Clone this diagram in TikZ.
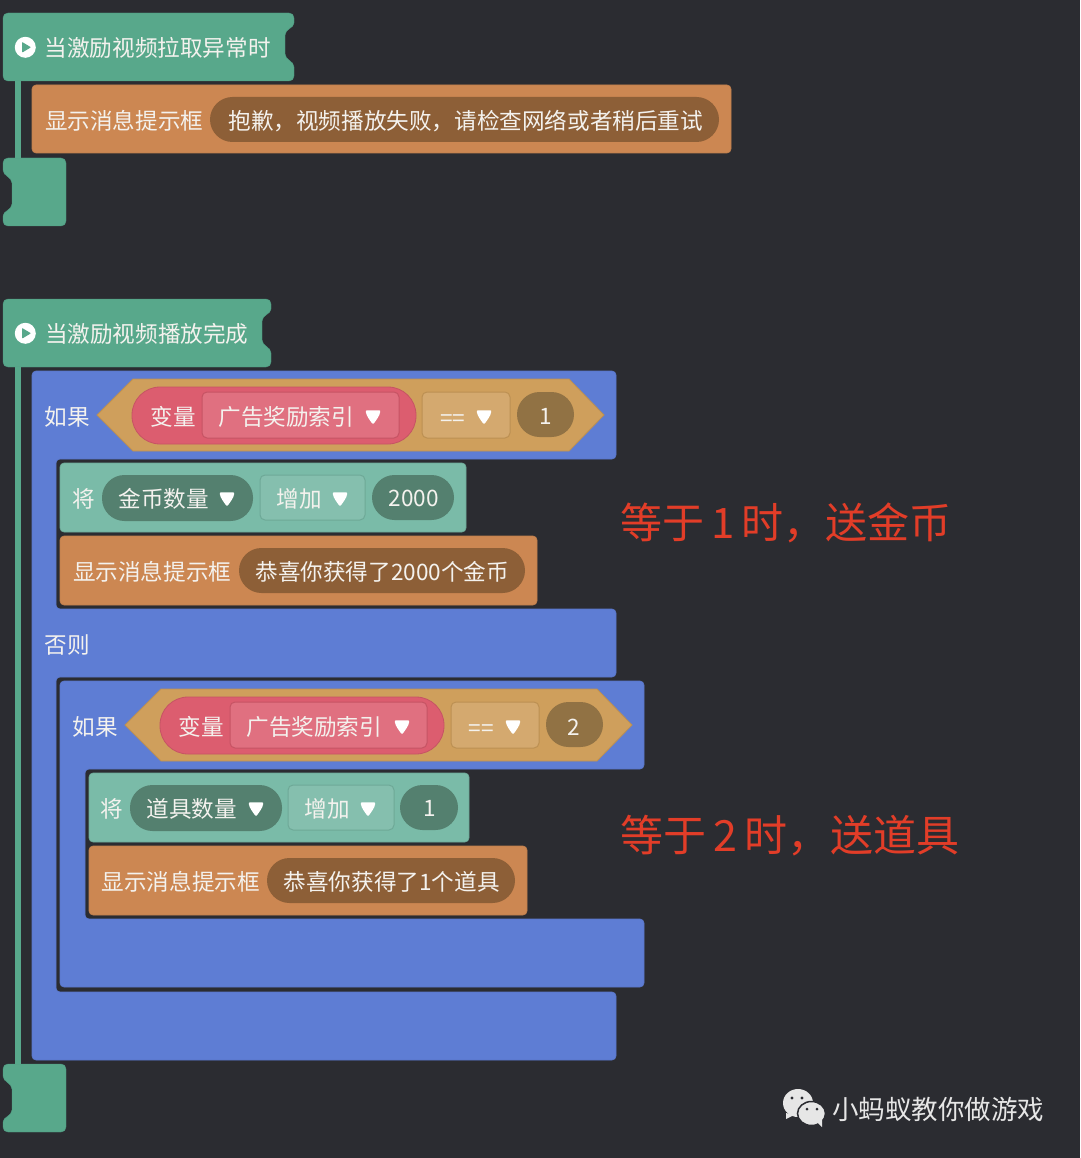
\documentclass[tikz,border=0pt]{standalone}
\usepackage{fontspec}
\setmainfont{Noto Sans CJK SC}
\definecolor{bgc}{HTML}{2B2C31}
\definecolor{greenc}{HTML}{58A88B}
\definecolor{greenb}{HTML}{4F9980}
\definecolor{orangec}{HTML}{CC8752}
\definecolor{orangeb}{HTML}{C07F4D}
\definecolor{opill}{HTML}{8D5F37}
\definecolor{bluec}{HTML}{5E7DD4}
\definecolor{blueb}{HTML}{5A77CA}
\definecolor{hexc}{HTML}{CF9F5C}
\definecolor{hexb}{HTML}{BC9053}
\definecolor{redc}{HTML}{DC5D6F}
\definecolor{redb}{HTML}{C65464}
\definecolor{reddd}{HTML}{E07080}
\definecolor{tealc}{HTML}{7ABBA8}
\definecolor{tealb}{HTML}{6EA997}
\definecolor{tealp}{HTML}{54806F}
\definecolor{tealdd}{HTML}{85BFAE}
\definecolor{brownp}{HTML}{917244}
\definecolor{tandd}{HTML}{D4A96F}
\definecolor{txtc}{HTML}{F4F2EE}
\definecolor{redtxt}{HTML}{E23D28}
\definecolor{wmc}{HTML}{E6E6E6}
\tikzset{
  x=1pt,y=-1pt,
  boxbase/.style={rectangle,inner sep=0pt,outer sep=0pt},
  setblk/.style={boxbase,fill=tealc,draw=tealb,rounded corners=4pt,line width=.6pt},
  msgblk/.style={boxbase,fill=orangec,draw=orangeb,rounded corners=4pt,line width=.6pt},
  msgpill/.style={boxbase,fill=opill,rounded corners=22.5pt},
  tealpill/.style={boxbase,fill=tealp,rounded corners=22.5pt},
  brownpill/.style={boxbase,fill=brownp,rounded corners=22.5pt},
  redpill/.style={boxbase,fill=redc,draw=redb,line width=.8pt,rounded corners=28pt},
  reddrop/.style={boxbase,fill=reddd,draw=redb,line width=1pt,rounded corners=5pt},
  tandrop/.style={boxbase,fill=tandd,draw=hexb,line width=1pt,rounded corners=5pt},
  tealdrop/.style={boxbase,fill=tealdd,draw=tealb,line width=1pt,rounded corners=5pt},
  lbl/.style={text=txtc,inner sep=0pt,xshift=.7pt,yshift=-.8pt,font=\fontsize{22.6}{26}\selectfont},
  redlbl/.style={text=redtxt,inner sep=0pt,font=\fontsize{42}{48}\selectfont},
  wmlbl/.style={text=wmc,inner sep=0pt,font=\fontsize{26.5}{30}\selectfont},
  hatshape/.style={fill=greenc,draw=greenb,line width=.4pt},
  spine/.style={draw=greenc,line width=6pt},
  blueshape/.style={fill=bluec,draw=blueb,line width=.6pt,rounded corners=4pt},
  hexshape/.style={fill=hexc,draw=hexb,line width=.8pt},
  dropmark/.style={fill=white,draw=white,line width=2.5pt,line join=round},
}
\newcommand{\bx}[6]{%
  \pgfmathsetmacro\cxv{(#2+#4)/2}\pgfmathsetmacro\cyv{(#3+#5)/2}%
  \pgfmathsetmacro\wv{#4-#2}\pgfmathsetmacro\hv{#5-#3}%
  \node[#6,minimum width=\wv pt,minimum height=\hv pt] (#1) at (\cxv,\cyv) {};}
\newcommand{\tx}[4]{\node[lbl] (#1) at (#2,#3) {#4};}
\newcommand{\mk}[2]{\fill[dropmark] (#1-6,#2-4.5) -- (#1+6,#2-4.5) .. controls (#1+5.5,#2-0.5) and (#1+2,#2+3.5) .. (#1,#2+6.5) .. controls (#1-2,#2+3.5) and (#1-5.5,#2-0.5) .. (#1-6,#2-4.5) -- cycle;}
\newcommand{\hatblock}[3]{% right edge x, top y, name
  \pgfmathsetmacro\rx{#1}\pgfmathsetmacro\ty{#2}%
  \filldraw[hatshape] (3,\ty+5) .. controls (3,\ty+2) and (5,\ty) .. (8,\ty)
    -- (\rx-5,\ty) .. controls (\rx-2,\ty) and (\rx,\ty+2) .. (\rx,\ty+5)
    -- (\rx,\ty+10) .. controls (\rx,\ty+15) and (\rx-9,\ty+16) .. (\rx-9,\ty+22)
    -- (\rx-9,\ty+41) .. controls (\rx-9,\ty+47) and (\rx,\ty+48) .. (\rx,\ty+54)
    -- (\rx,\ty+63) .. controls (\rx,\ty+66) and (\rx-2,\ty+68) .. (\rx-5,\ty+68)
    -- (8,\ty+68) .. controls (5,\ty+68) and (3,\ty+66) .. (3,\ty+63) -- cycle;
  \coordinate (#3) at (18,\ty+68);
  \fill[white] (25.3,\ty+34.3) circle[radius=10.5];
  \fill[greenc,draw=greenc,line width=1pt,line join=round] (22.5,\ty+29.8) -- (30,\ty+34.3) -- (22.5,\ty+38.8) -- cycle;}
\newcommand{\capb}[2]{% top y, name
  \pgfmathsetmacro\ty{#1}%
  \filldraw[hatshape] (8,\ty) -- (61,\ty) .. controls (64,\ty) and (66,\ty+2) .. (66,\ty+5)
    -- (66,\ty+63) .. controls (66,\ty+66) and (64,\ty+68) .. (61,\ty+68)
    -- (8,\ty+68) .. controls (5,\ty+68) and (3,\ty+66) .. (3,\ty+63)
    -- (3,\ty+58) .. controls (3,\ty+53) and (12,\ty+52) .. (12,\ty+46)
    -- (12,\ty+25) .. controls (12,\ty+19) and (3,\ty+18) .. (3,\ty+12)
    -- (3,\ty+5) .. controls (3,\ty+2) and (5,\ty) .. (8,\ty) -- cycle;
  \coordinate (#2) at (18,\ty);}
\begin{document}
\begin{tikzpicture}
\useasboundingbox (0,0) rectangle (1080,1158);
\fill[bgc] (0,0) rectangle (1080,1158);

% --- first stack
\hatblock{294}{13}{hatA}
\capb{158}{capA}
\draw[spine] (hatA) -- (capA);
\tx{tA}{157}{47}{当激励视频拉取异常时}
\bx{msgA}{32}{85}{731}{153}{msgblk}
\tx{msgAl}{123.5}{120}{显示消息提示框}
\bx{msgAp}{210}{97}{719}{142}{msgpill}
\tx{msgAt}{465}{120}{抱歉，视频播放失败，请检查网络或者稍后重试}

% --- second stack
\hatblock{271}{299}{hatB}
\capb{1064}{capB}
\draw[spine] (hatB) -- (capB);
\tx{tB}{146}{333}{当激励视频播放完成}

% outer if
\filldraw[blueshape] (32,371) -- (616,371) -- (616,459) -- (56,459) -- (56,609) -- (616,609) -- (616,677) -- (56,677) -- (56,992) -- (616,992) -- (616,1060) -- (32,1060) -- cycle;
\tx{ifA}{66.5}{416}{如果}
\tx{elseA}{66.5}{644}{否则}
\coordinate (hA1) at (97,415);\coordinate (hA2) at (133,379);\coordinate (hA3) at (569,379);
\coordinate (hA4) at (604,415);\coordinate (hA5) at (569,451);\coordinate (hA6) at (133,451);
\filldraw[hexshape] (hA1) -- (hA2) -- (hA3) -- (hA4) -- (hA5) -- (hA6) -- cycle;
\bx{vA}{132}{387}{416}{444}{redpill}
\tx{vAl}{172.5}{416}{变量}
\bx{vAd}{202}{392}{399}{438}{reddrop}
\tx{vAt}{285.5}{416}{广告奖励索引}
\mk{373}{416}
\bx{opA}{422}{392}{510}{438}{tandrop}
\tx{opAt}{452}{420}{==}
\mk{484}{416}
\bx{numA}{517}{392}{574}{437}{brownpill}
\tx{numAt}{545}{416}{1}

\bx{setA}{60}{463}{466}{532}{setblk}
\tx{setAl}{83}{498}{将}
\bx{setAv}{102}{475}{253}{521}{tealpill}
\tx{setAvt}{163}{498}{金币数量}
\mk{227}{498}
\bx{setAo}{260}{475}{365}{520}{tealdrop}
\tx{setAot}{298.5}{498}{增加}
\mk{340}{498}
\bx{setAn}{372}{475}{454}{520}{tealpill}
\tx{setAnt}{413}{498}{2000}

\bx{msgB}{60}{536}{537}{605}{msgblk}
\tx{msgBl}{151.5}{571}{显示消息提示框}
\bx{msgBp}{239}{548}{525}{593}{msgpill}
\tx{msgBt}{381.5}{571}{恭喜你获得了2000个金币}

% inner if
\filldraw[blueshape] (60,681) -- (644,681) -- (644,769) -- (85,769) -- (85,919) -- (644,919) -- (644,987) -- (60,987) -- cycle;
\tx{ifB}{94.5}{726}{如果}
\coordinate (hB1) at (125,725);\coordinate (hB2) at (161,689);\coordinate (hB3) at (597,689);
\coordinate (hB4) at (632,725);\coordinate (hB5) at (597,761);\coordinate (hB6) at (161,761);
\filldraw[hexshape] (hB1) -- (hB2) -- (hB3) -- (hB4) -- (hB5) -- (hB6) -- cycle;
\bx{vB}{160}{697}{444}{754}{redpill}
\tx{vBl}{200.5}{726}{变量}
\bx{vBd}{230}{702}{427}{748}{reddrop}
\tx{vBt}{313.5}{726}{广告奖励索引}
\mk{402}{726}
\bx{opB}{451}{702}{539}{748}{tandrop}
\tx{opBt}{480.5}{730}{==}
\mk{513}{726}
\bx{numB}{546}{702}{603}{747}{brownpill}
\tx{numBt}{573.5}{726}{2}

\bx{setB}{89}{773}{469}{842}{setblk}
\tx{setBl}{111}{808}{将}
\bx{setBv}{130}{785}{282}{831}{tealpill}
\tx{setBvt}{191}{808}{道具数量}
\mk{256}{808}
\bx{setBo}{288}{785}{394}{830}{tealdrop}
\tx{setBot}{326.5}{808}{增加}
\mk{368}{808}
\bx{setBn}{400}{785}{458}{830}{tealpill}
\tx{setBnt}{429}{808}{1}

\bx{msgC}{89}{846}{527}{915}{msgblk}
\tx{msgCl}{180}{881}{显示消息提示框}
\bx{msgCp}{267}{858}{515}{903}{msgpill}
\tx{msgCt}{391}{881}{恭喜你获得了1个道具}

% notes
\node[redlbl] (noteA) at (786,523) {等于\,1\,时，送金币};
\node[redlbl,font=\fontsize{43}{48}\selectfont] (noteB) at (790,836) {等于\,2\,时，送道具};

% watermark
\fill[wmc] (798,1103) ellipse[x radius=15,y radius=14];
\fill[wmc] (786,1113) -- (786,1119) -- (794,1115) -- cycle;
\fill[wmc,draw=bgc,line width=1.5pt] (811.5,1113.5) ellipse[x radius=14,y radius=12];
\fill[wmc] (817,1122) -- (822,1127) -- (822,1119) -- cycle;
\fill[bgc] (792,1098) circle[radius=1.6] (802,1098) circle[radius=1.6] (807,1109) circle[radius=1.5] (817,1109) circle[radius=1.5];
\node[wmlbl] (wm) at (938,1109.5) {小蚂蚁教你做游戏};
\end{tikzpicture}
\end{document}
